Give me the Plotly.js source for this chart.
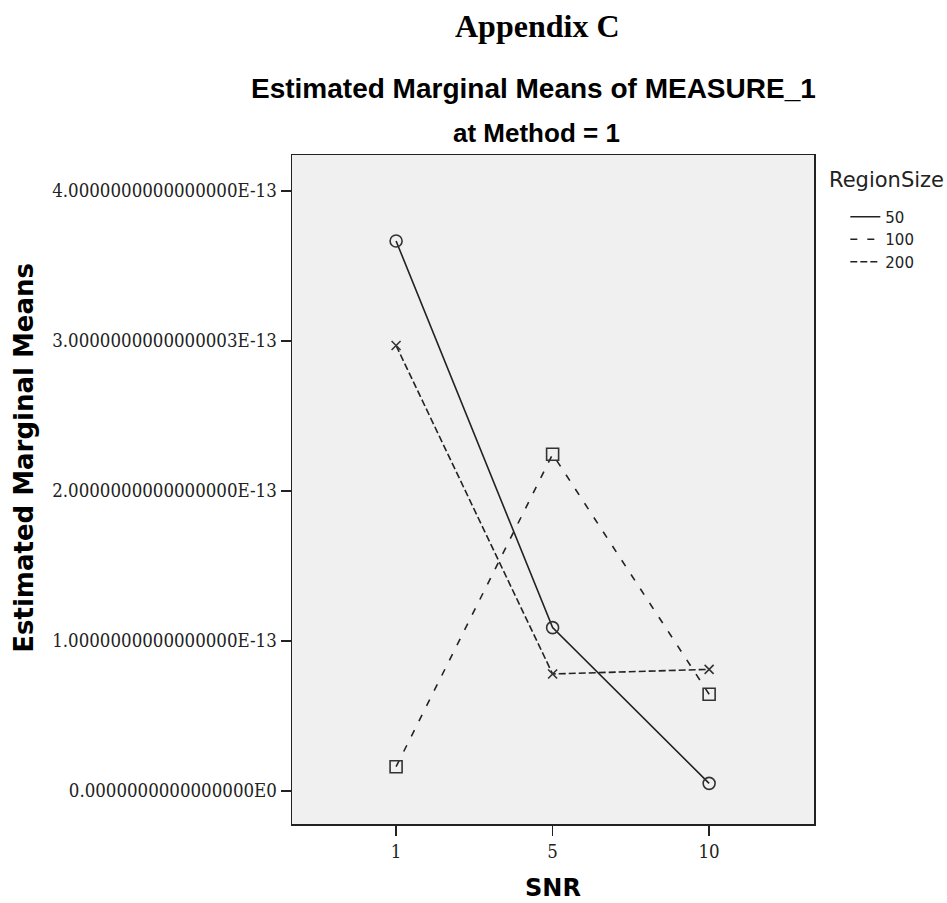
<!DOCTYPE html>
<html>
<head>
<meta charset="utf-8">
<script src="https://cdn.plot.ly/plotly-3.0.1.min.js"></script>
<style>html,body{margin:0;padding:0;background:#fff;}</style>
</head>
<body>
<div id="chart" style="width:947px;height:903px;"></div>
<script>
// ---- data ----
const snrCategories = ['1', '5', '10'];
const regionSizes = ['50', '100', '200'];
const means50 = [3.667e-13, 1.089e-13, 0.051e-13];
const means100 = [0.162e-13, 2.245e-13, 0.645e-13];
const means200 = [2.97e-13, 0.78e-13, 0.811e-13];
const yTickValues = [0, 1e-13, 2e-13, 3e-13, 4e-13];
const yTickLabels = ['0.0000000000000000E0', '1.0000000000000000E-13', '2.0000000000000000E-13', '3.0000000000000003E-13', '4.0000000000000000E-13'];

const seriesValues = [means50, means100, means200];
const seriesStyle = [
  {dash: 'solid', symbol: 'circle-open', size: 12},
  {dash: '7px,10px', symbol: 'square-open', size: 12},
  {dash: '7px,3px', symbol: 'x-thin-open', size: 9}
];
const lineColor = '#222222';
const tickFont = {family: 'DejaVu Serif Condensed, DejaVu Serif, serif', size: 18.5, color: '#222'};
const dvBold = {family: 'DejaVu Sans, sans-serif', size: 26, color: '#000', weight: 'bold'};

const traces = [];
seriesValues.forEach((vals, i) => {
  traces.push({
    type: 'scatter', mode: 'lines+markers',
    x: snrCategories, y: vals,
    name: regionSizes[i], showlegend: false,
    line: {color: lineColor, width: 1.6, dash: seriesStyle[i].dash},
    marker: {symbol: seriesStyle[i].symbol, size: seriesStyle[i].size, color: '#333',
             line: {color: '#333', width: 1.6}},
    hoverinfo: 'x+y+name'
  });
});
seriesValues.forEach((vals, i) => {
  traces.push({
    type: 'scatter', mode: 'lines', x: [null], y: [null],
    name: regionSizes[i], showlegend: true,
    line: {color: lineColor, width: 1.6, dash: seriesStyle[i].dash}
  });
});

const layout = {
  width: 947, height: 903,
  margin: {l: 292, r: 133, t: 155, b: 79, pad: 0},
  paper_bgcolor: '#ffffff', plot_bgcolor: '#f0f0f0',
  showlegend: true,
  legend: {
    x: 1.06, y: 0.932, xanchor: 'left', yanchor: 'top',
    bgcolor: 'rgba(0,0,0,0)', borderwidth: 0,
    font: {family: 'DejaVu Sans, sans-serif', size: 15, color: '#222'},
    itemwidth: 30, tracegroupgap: 0
  },
  xaxis: {
    type: 'category', categoryorder: 'array', categoryarray: snrCategories,
    range: [-0.665, 2.67], fixedrange: true,
    showline: true, linecolor: '#222', linewidth: 1.5, mirror: true,
    ticks: 'outside', ticklen: 10, tickwidth: 1.5, tickcolor: '#222',
    showgrid: false, zeroline: false, tickfont: tickFont,
    title: {text: 'SNR', font: {family: 'DejaVu Sans, sans-serif', size: 24, color: '#000', weight: 'bold'}, standoff: 18}
  },
  yaxis: {
    range: [-0.22e-13, 4.24e-13], fixedrange: true,
    tickvals: yTickValues, ticktext: yTickLabels,
    showline: true, linecolor: '#222', linewidth: 1.5, mirror: true,
    ticks: 'outside', ticklen: 10, tickwidth: 1.5, tickcolor: '#222',
    showgrid: false, zeroline: false, tickfont: tickFont
  },
  annotations: [
    {text: 'Appendix C', xref: 'paper', yref: 'paper', x: 0.471, y: 1.193, xanchor: 'center', yanchor: 'middle',
     showarrow: false, font: {family: 'Liberation Serif, Times New Roman, serif', size: 32, color: '#000', weight: 'bold'}},
    {text: 'Estimated Marginal Means of MEASURE_1', xref: 'paper', yref: 'paper', x: 0.463, y: 1.0987, xanchor: 'center', yanchor: 'middle',
     showarrow: false, font: {family: 'Liberation Sans, Arial, sans-serif', size: 28, color: '#000', weight: 'bold'}},
    {text: 'at Method = 1', xref: 'paper', yref: 'paper', x: 0.469, y: 1.033, xanchor: 'center', yanchor: 'middle',
     showarrow: false, font: {family: 'Liberation Sans, Arial, sans-serif', size: 26, color: '#000', weight: 'bold'}},
    {text: 'Estimated Marginal Means', xref: 'paper', yref: 'paper', x: -0.514, y: 0.547, xanchor: 'center', yanchor: 'middle',
     textangle: -90, showarrow: false, font: dvBold},
    {text: 'RegionSize', xref: 'paper', yref: 'paper', x: 1.025, y: 0.962, xanchor: 'left', yanchor: 'middle',
     showarrow: false, font: {family: 'DejaVu Sans, sans-serif', size: 21, color: '#222'}}
  ]
};

Plotly.newPlot('chart', traces, layout, {displayModeBar: false, staticPlot: true});
</script>
</body>
</html>
